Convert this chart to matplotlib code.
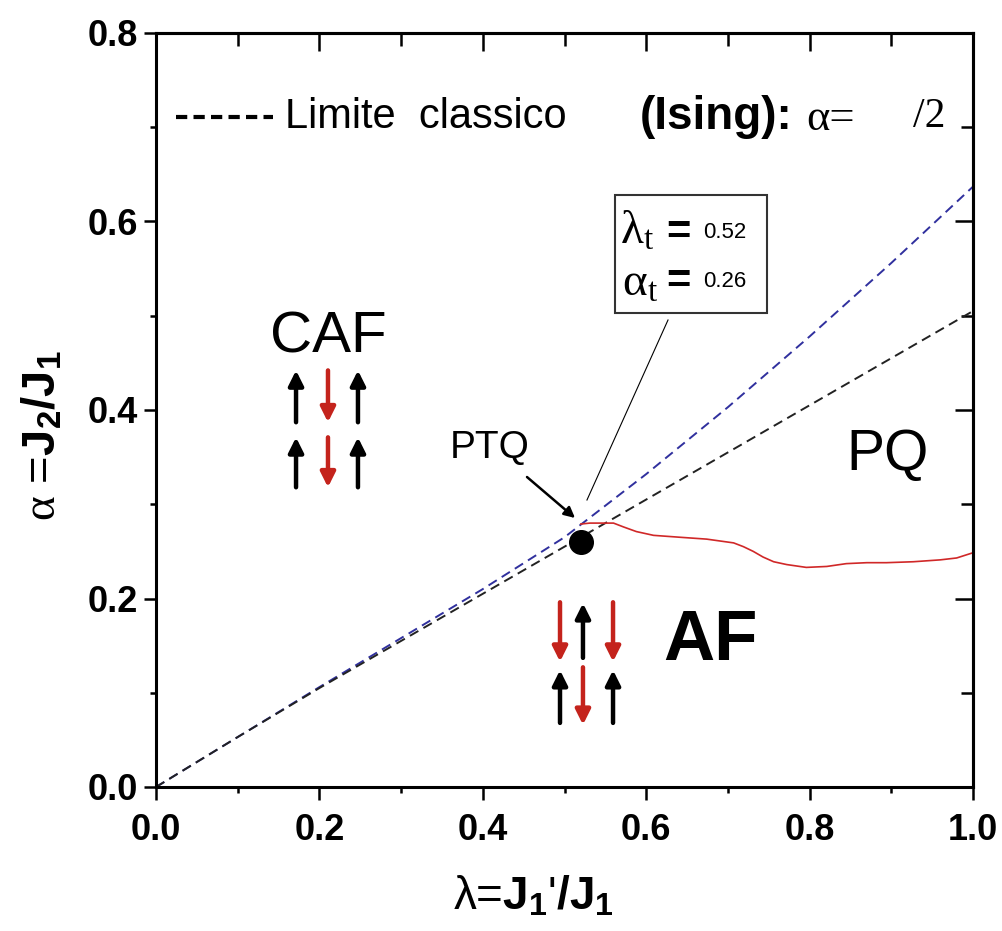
import matplotlib
matplotlib.use("Agg")
import matplotlib.pyplot as plt
from matplotlib.patches import Rectangle
from matplotlib.ticker import MultipleLocator

# classical limits of the two transition lines
lam = [0.0, 0.1, 0.2, 0.3, 0.4, 0.5, 0.6, 0.7, 0.8, 0.9, 1.0]
alpha_blue = [0.0, 0.053, 0.106, 0.158, 0.210, 0.265, 0.332, 0.403, 0.478, 0.556, 0.637]
alpha_black = [0.0, 0.053, 0.105, 0.155, 0.205, 0.255, 0.305, 0.355, 0.405, 0.455, 0.505]

# quantum AF / PQ boundary
lam_red = [0.520, 0.531, 0.560, 0.572, 0.588, 0.609, 0.641, 0.674, 0.707, 0.719,
           0.731, 0.743, 0.756, 0.772, 0.796, 0.821, 0.845, 0.870, 0.894, 0.927,
           0.960, 0.980, 0.998]
alpha_red = [0.279, 0.280, 0.280, 0.276, 0.271, 0.267, 0.265, 0.263, 0.259, 0.255,
             0.250, 0.244, 0.239, 0.236, 0.233, 0.234, 0.237, 0.238, 0.238, 0.239,
             0.241, 0.243, 0.248]

# tricritical point
lam_t = 0.52
alpha_t = 0.26

plt.rcParams['mathtext.fontset'] = 'custom'
plt.rcParams['mathtext.rm'] = 'Liberation Serif'
plt.rcParams['mathtext.it'] = 'Liberation Serif:italic'
plt.rcParams['mathtext.bf'] = 'Liberation Sans:bold'

SANS = ['Liberation Sans', 'DejaVu Sans']

fig = plt.figure(figsize=(10.03, 9.31), dpi=100)
ax = fig.add_axes([156/1003, 1 - 787/931, 817/1003, 754/931])

ax.plot(lam, alpha_blue, ls=(0, (5, 3)), color='#30309e', lw=1.4)
ax.plot(lam, alpha_black, ls=(0, (5, 3)), color='#222222', lw=1.4)
ax.plot(lam_red, alpha_red, color='#d02828', lw=1.2)
ax.plot([lam_t], [alpha_t], 'o', color='black', ms=17, zorder=5)

ax.set_xlim(0, 1.0)
ax.set_ylim(0, 0.8)
ax.xaxis.set_major_locator(MultipleLocator(0.2))
ax.xaxis.set_minor_locator(MultipleLocator(0.1))
ax.yaxis.set_major_locator(MultipleLocator(0.2))
ax.yaxis.set_minor_locator(MultipleLocator(0.1))
ax.xaxis.set_major_formatter(lambda v, p: f"{v:.1f}")
ax.yaxis.set_major_formatter(lambda v, p: f"{v:.1f}")
for s in ax.spines.values():
    s.set_linewidth(2.2)
ax.tick_params(which='both', direction='out', width=1.8)
ax.tick_params(which='major', length=9)
ax.tick_params(which='minor', length=4)
for lab in ax.get_xticklabels() + ax.get_yticklabels():
    lab.set_fontfamily('Liberation Sans')
    lab.set_fontweight('bold')
    lab.set_fontsize(26)
ax.tick_params(axis='x', pad=10)
ax.tick_params(axis='y', pad=4)

# inward ticks on the top and right frame
top = ax.secondary_xaxis('top')
right = ax.secondary_yaxis('right')
for sec in (top, right):
    sec.xaxis.set_major_locator(MultipleLocator(0.2)) if sec is top else sec.yaxis.set_major_locator(MultipleLocator(0.2))
    sec.xaxis.set_minor_locator(MultipleLocator(0.1)) if sec is top else sec.yaxis.set_minor_locator(MultipleLocator(0.1))
    sec.tick_params(which='both', direction='in', width=1.8, labeltop=False, labelright=False)
    sec.tick_params(which='major', length=13)
    sec.tick_params(which='minor', length=9)
    for s in sec.spines.values():
        s.set_linewidth(2.2)

fig.text(533/1003, 1 - 898/931, r"λ=$\mathbf{J}_\mathbf{1}$'$\mathbf{/J}_\mathbf{1}$",
         fontsize=33, family=SANS, ha='center', va='center')
fig.text(44/1003, 1 - 436/931, r"$\mathrm{\alpha}$ =$\mathbf{J}_\mathbf{2}\mathbf{/J}_\mathbf{1}$",
         fontsize=34, family=SANS, ha='center', va='center', rotation=90)

# legend-like header
ax.plot([0.025, 0.143], [0.711, 0.711], ls=(0, (2.7, 1.5)), color='black', lw=3)
ax.text(0.158, 0.711, "Limite  classico", fontsize=30, family=SANS, va='center')
ax.text(0.592, 0.711, "(Ising):", fontsize=33, family=SANS, weight='bold', va='center')
ax.text(0.796, 0.709, "α=", fontsize=32, family='Liberation Serif', va='center')
ax.text(0.927, 0.711, "/2", fontsize=30, family='Liberation Serif', va='center')

# phase labels
ax.text(0.2105, 0.4615, "CAF", fontsize=42, family=SANS, ha='center', va='baseline')
ax.text(0.896, 0.336, "PQ", fontsize=41, family=SANS, ha='center', va='baseline')
ax.text(0.409, 0.349, "PTQ", fontsize=28, family=SANS, ha='center', va='baseline')
ax.text(0.6206, 0.1347, "AF", fontsize=51, family=SANS, weight='bold', va='baseline')


def spin(x, y0, y1, color):
    ax.annotate('', xy=(x, y1), xytext=(x, y0),
                arrowprops=dict(arrowstyle='-|>', color=color, lw=3.2,
                                mutation_scale=22, shrinkA=0, shrinkB=0))


RED = '#c4231c'
# CAF pattern
for x, c, up in [(0.1714, 'black', True), (0.2105, RED, False), (0.2472, 'black', True)]:
    for lo, hi in [(0.387, 0.442), (0.318, 0.371)]:
        spin(x, lo, hi, c) if up else spin(x, hi, lo, c)
# AF pattern
af_cols = [0.4945, 0.5226, 0.5594]
for i, x in enumerate(af_cols):
    if i == 1:
        spin(x, 0.137, 0.195, 'black')
        spin(x, 0.127, 0.066, RED)
    else:
        spin(x, 0.196, 0.133, RED)
        spin(x, 0.068, 0.124, 'black')

# PTQ pointer and info box
ax.annotate('', xy=(0.5129, 0.2854), xytext=(0.4541, 0.3289),
            arrowprops=dict(arrowstyle='-|>', color='black', lw=1.8,
                            mutation_scale=16, shrinkA=0, shrinkB=0))
ax.plot([0.6267, 0.5275], [0.4955, 0.3045], color='black', lw=0.8)
ax.add_patch(Rectangle((0.5618, 0.503), 0.1861, 0.125, fill=False,
                       lw=1.5, edgecolor='#333333'))
ax.text(0.568, 0.590, r"$\mathrm{\lambda_t}$", fontsize=34, va='center')
ax.text(0.624, 0.588, "=", fontsize=30, weight='bold', va='center', family=SANS)
ax.text(0.670, 0.588, f"{lam_t:.2f}", fontsize=16, va='center', family=SANS)
ax.text(0.570, 0.535, r"$\mathrm{\alpha_t}$", fontsize=34, va='center')
ax.text(0.624, 0.536, "=", fontsize=30, weight='bold', va='center', family=SANS)
ax.text(0.670, 0.536, f"{alpha_t:.2f}", fontsize=16, va='center', family=SANS)

fig.savefig("out.png", dpi=100)
